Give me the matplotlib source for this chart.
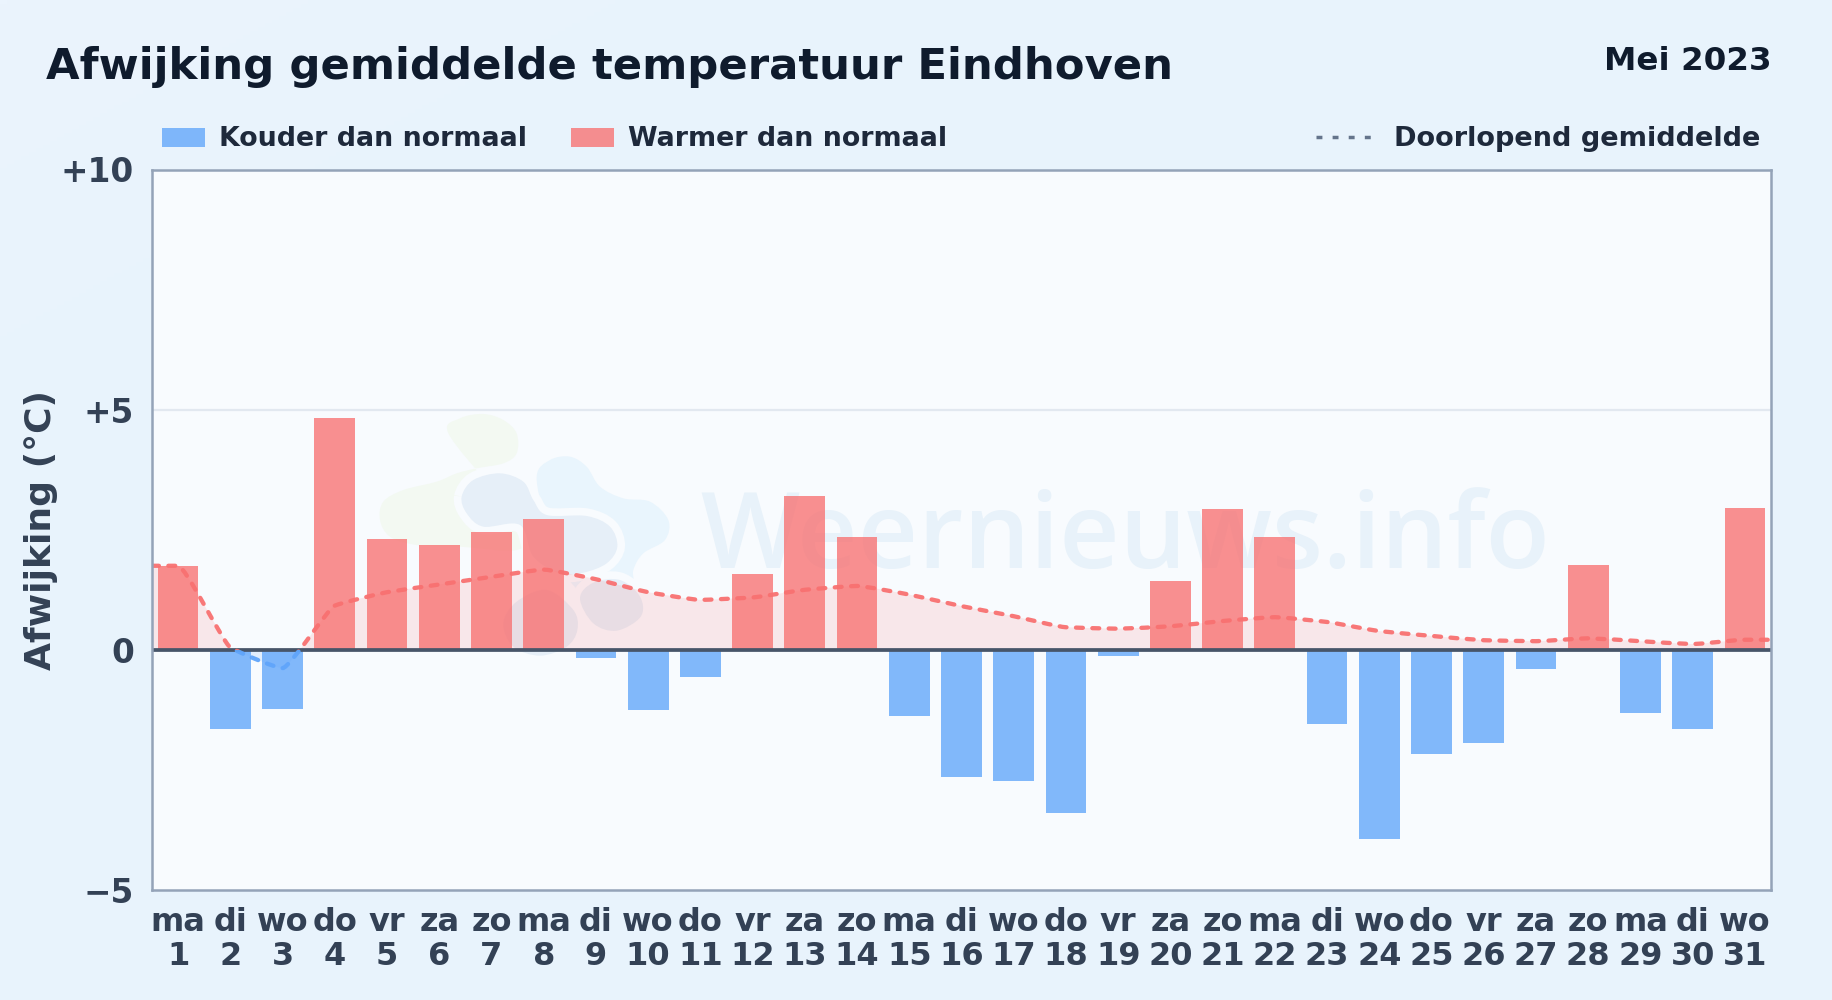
import numpy as np
import matplotlib
matplotlib.use("Agg")
import matplotlib.pyplot as plt
from matplotlib.path import Path
from matplotlib.patches import PathPatch, Patch, Rectangle
from matplotlib.lines import Line2D

weekdays = ["ma","di","wo","do","vr","za","zo","ma","di","wo","do","vr","za","zo","ma","di","wo","do","vr","za","zo","ma","di","wo","do","vr","za","zo","ma","di","wo"]
days = list(range(1, 32))
anomaly = [1.75,-1.65,-1.24,4.83,2.31,2.18,2.45,2.72,-0.17,-1.26,-0.56,1.58,3.20,2.35,-1.38,-2.65,-2.74,-3.40,-0.12,1.43,2.94,2.35,-1.55,-3.93,-2.16,-1.94,-0.39,1.77,-1.31,-1.65,2.96]
running_mean = [1.75,0.05,-0.38,0.92,1.20,1.36,1.52,1.67,1.47,1.20,1.04,1.09,1.25,1.33,1.15,0.91,0.70,0.47,0.44,0.49,0.60,0.68,0.58,0.39,0.29,0.20,0.18,0.24,0.18,0.12,0.21]
ytick_vals = [-5, 0, 5, 10]
ytick_labels = ["\u22125", "0", "+5", "+10"]

W, H = 1832, 1000
plt.rcParams['font.family'] = ['DejaVu Sans']
plt.rcParams['font.weight'] = 'bold'
fig = plt.figure(figsize=(W/100, H/100), dpi=100, facecolor='#e8f3fc')

bg = fig.add_axes([0, 0, 1, 1], zorder=-5)
bg.axis('off')
gx, gy = np.meshgrid(np.linspace(0, 1, 256), np.linspace(0, 1, 256))
t = np.clip((gx + gy) / 0.5, 0, 1)[..., None]
c0, c1 = np.array([235, 244, 253])/255, np.array([232, 243, 252])/255
bg.imshow(c0*(1-t) + c1*t, aspect='auto', extent=[0, 1, 0, 1], origin='upper')

AX_BG = '#f8fbfe'
ax = fig.add_axes([152/W, 1-890/H, (1771-152)/W, (890-169.5)/H], facecolor=AX_BG)
ax.set_zorder(1)

RED, BLUE = '#f87171', '#60a5fa'

def smooth_path(xs, ys, k=0.14):
    xs, ys = np.asarray(xs, float), np.asarray(ys, float)
    d = np.diff(ys)/np.diff(xs)
    m = np.zeros_like(ys)
    m[1:-1] = np.where(d[:-1]*d[1:] <= 0, 0, 2*d[:-1]*d[1:]/(d[:-1]+d[1:]+1e-12))
    m[0], m[-1] = d[0], d[-1]
    verts = [(xs[0], ys[0])]; codes = [Path.MOVETO]
    for i in range(len(xs)-1):
        h = xs[i+1]-xs[i]
        verts += [(xs[i]+h*k, ys[i]+m[i]*h*k), (xs[i+1]-h*k, ys[i+1]-m[i+1]*h*k), (xs[i+1], ys[i+1])]
        codes += [Path.CURVE4]*3
    return verts, codes

line_x = [0.5] + days + [31.5]
line_y = [running_mean[0]] + running_mean + [running_mean[-1]]
v, c = smooth_path(line_x, line_y)
fill_v = v + [(line_x[-1], 0), (line_x[0], 0), v[0]]
fill_c = c + [Path.LINETO, Path.LINETO, Path.CLOSEPOLY]

above = Rectangle((0.5, 0), 31, 10, transform=ax.transData)
below = Rectangle((0.5, -5), 31, 5, transform=ax.transData)

ax.set_xlim(0.5, 31.5)
ax.set_ylim(-5, 10)

# watermark: word mark and logo blobs, placed in figure pixels
ax.text(0.3385, 0.447, "Weernieuws.info", transform=ax.transAxes, fontsize=75.5, family='Open Sans',
        weight='semibold', color='#e8f2fa', ha='left', va='baseline', zorder=0.6)

def blob(zoom_pts, color, edge='none', lw=0.0, z=0.5):
    pts = np.array([(360 + x/3, 390 + y/3) for x, y in zoom_pts], float)
    n = len(pts)
    verts = [tuple(pts[0])]; codes = [Path.MOVETO]
    for i in range(n):
        p0, p1, p2, p3 = pts[i-1], pts[i], pts[(i+1) % n], pts[(i+2) % n]
        verts += [tuple(p1+(p2-p0)/6), tuple(p2-(p3-p1)/6), tuple(p2)]
        codes += [Path.CURVE4]*3
    ax.add_patch(PathPatch(Path([(x/W, 1-y/H) for x, y in verts], codes), fc=color, ec=edge, lw=lw,
                           transform=fig.transFigure, zorder=z))

GREEN_BLOB = [(265,130),(300,85),(370,72),(430,90),(470,130),(470,190),(430,220),(350,235),(290,250),(230,275),(130,300),
              (70,335),(60,390),(90,440),(170,465),(300,470),(470,480),(500,420),(400,300)]
SKY_BLOB = [(530,260),(570,210),(630,200),(680,230),(720,290),(790,325),(870,335),(925,390),(915,450),(850,490),(820,540),
            (815,600),(720,640),(620,560),(560,400)]
GRAY_BLOB = [(305,320),(340,270),(420,250),(490,275),(520,330),(560,375),(680,378),(750,410),(772,470),(740,520),(670,548),
             (600,550),(520,500),(480,405),(370,410),(320,370)]
LOW_BLOB_R = [(660,625),(700,578),(780,570),(840,620),(842,680),(770,722),(700,700)]
LOW_BLOB_L = [(430,700),(470,635),(560,600),(640,660),(652,720),(620,770),(540,797),(460,770)]

blob(GREEN_BLOB, '#f3f9f2', z=0.50)
blob(SKY_BLOB, '#e9f5fd', z=0.51)
blob(GRAY_BLOB, '#e6eff8', edge=AX_BG, lw=11, z=0.52)
blob(GRAY_BLOB, '#e6eff8', z=0.525)
blob(LOW_BLOB_R, '#e6eff8', edge=AX_BG, lw=11, z=0.53)
blob(LOW_BLOB_R, '#e6eff8', z=0.535)
blob(LOW_BLOB_L, '#e6eff8', z=0.53)

ax.axhline(5, color='#e2e8f0', lw=1.6, zorder=1)
for clip, col in [(above, RED), (below, BLUE)]:
    p = PathPatch(Path(fill_v, fill_c), fc=col, ec='none', alpha=0.14, zorder=1.5)
    ax.add_patch(p); p.set_clip_path(clip)

colors = [RED if a >= 0 else BLUE for a in anomaly]
ax.bar(days, anomaly, width=0.78, color=colors, alpha=0.78, linewidth=0, zorder=2)

for clip, col in [(above, RED), (below, BLUE)]:
    p = PathPatch(Path(v, c), fc='none', ec=col, lw=3.1, alpha=0.95, linestyle=(0, (1.6, 2.2)), capstyle='round', zorder=4)
    ax.add_patch(p); p.set_clip_path(clip)

ax.axhline(0, color='#475569', lw=2.7, zorder=3)

ax.set_xticks(days, [f"{w}\n{d}" for w, d in zip(weekdays, days)], linespacing=1.13)
ax.set_yticks(ytick_vals, ytick_labels)
ax.tick_params(axis='both', length=0, colors='#334155')
ax.tick_params(axis='x', labelsize=23, pad=12.5)
ax.tick_params(axis='y', labelsize=23.6, pad=13)
for s in ax.spines.values():
    s.set_color('#94a3b8'); s.set_linewidth(1.8); s.set_zorder(5)
fig.text(41.5/W, 1-530/H, "Afwijking (\u00b0C)", rotation=90, fontsize=26, color='#334155', ha='center', va='center')

fig.text(46/W, 1-67.5/H, "Afwijking gemiddelde temperatuur Eindhoven", fontsize=31.2, color='#0f1b2d', ha='left', va='center')
fig.text(1772/W, 1-61/H, "Mei 2023", fontsize=23.4, color='#0f1b2d', ha='right', va='center')

leg1 = fig.legend(handles=[Patch(fc=BLUE, alpha=0.78, label="Kouder dan normaal"), Patch(fc=RED, alpha=0.78, label="Warmer dan normaal")],
                  ncols=2, loc='center left', bbox_to_anchor=(162/W, 1-139.5/H), frameon=False, fontsize=19.4,
                  handlelength=1.6, handleheight=0.7, handletextpad=0.52, columnspacing=1.62, borderpad=0, borderaxespad=0,
                  labelcolor='#1e293b')
leg2 = fig.legend(handles=[Line2D([], [], color='#64748b', lw=2.5, linestyle=(0, (1.7, 2.94)), dash_capstyle='butt', label="Doorlopend gemiddelde")],
                  loc='center right', bbox_to_anchor=(1760/W, 1-139.5/H), frameon=False, fontsize=19.5,
                  handlelength=2.03, handletextpad=0.85, borderpad=0, borderaxespad=0, labelcolor='#1e293b')

fig.savefig('out.png', dpi=100, facecolor=fig.get_facecolor())
